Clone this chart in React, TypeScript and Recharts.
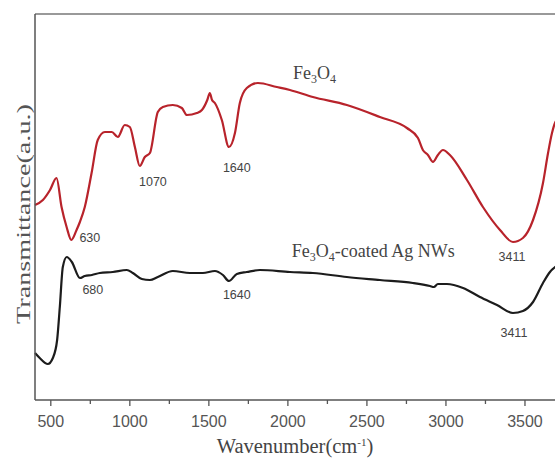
import { LineChart, Line, XAxis, YAxis, ReferenceDot } from 'recharts'

// wavenumber (cm-1) for each sampled point of the Fe3O4 spectrum
const fe3o4Wavenumbers = [
  400, 450, 495, 536, 568, 600, 630, 663, 684, 715, 758, 797, 842, 886, 924, 968,
  1000, 1032, 1063, 1095, 1127, 1177, 1209, 1272, 1329, 1361, 1424, 1456, 1490,
  1506, 1520, 1538, 1582, 1627, 1665, 1696, 1740, 1810, 1930, 2013, 2158, 2373,
  2582, 2753, 2823, 2854, 2886, 2918, 2949, 2981, 3025, 3133, 3234, 3342, 3424,
  3487, 3551, 3614, 3646, 3671, 3690, 3700,
]
// transmittance, arbitrary units
const fe3o4Values = [
  195, 200, 210, 222, 193, 173, 160, 170, 178, 193, 227, 260, 268, 268, 263, 275,
  273, 253, 234, 243, 247, 288, 293, 295, 292, 285, 287, 290, 300, 307, 300, 297,
  280, 253, 267, 297, 312, 317, 313, 310, 303, 295, 283, 272, 262, 250, 245, 238,
  245, 250, 245, 220, 193, 170, 158, 162, 180, 217, 247, 267, 277, 280,
]

const agWavenumbers = [
  400, 430, 481, 513, 540, 557, 576, 601, 633, 684, 715, 760, 810, 892, 981, 1019,
  1076, 1127, 1177, 1272, 1380, 1462, 1538, 1589, 1627, 1677, 1740, 1823, 2013,
  2158, 2373, 2582, 2791, 2899, 2924, 2949, 3006, 3108, 3215, 3323, 3424, 3487,
  3551, 3614, 3658, 3700,
]
const agValues = [
  47, 42, 36, 42, 60, 93, 133, 143, 138, 122, 124, 125, 127, 128, 130, 127, 121,
  120, 123, 129, 127, 127, 129, 125, 119, 126, 128, 130, 128, 127, 123, 120, 117,
  114, 113, 116, 116, 112, 103, 95, 87, 89, 98, 117, 128, 134,
]

const xTicks = [500, 750, 1000, 1250, 1500, 1750, 2000, 2250, 2500, 2750, 3000, 3250, 3500, 3750]

// peak labels: text, wavenumber and height of the text centre
const peakLabels = [
  { text: '630', x: 747, y: 162 },
  { text: '1070', x: 1146, y: 218 },
  { text: '1640', x: 1677, y: 232 },
  { text: '3411', x: 3418, y: 143 },
  { text: '680', x: 766, y: 110 },
  { text: '1640', x: 1677, y: 105 },
  { text: '3411', x: 3430, y: 67 },
]

const seriesLabels = [
  { suffix: '', x: 2032, y: 321 },
  { suffix: '-coated Ag NWs', x: 2025, y: 143 },
]

const fe3o4Data = fe3o4Wavenumbers.map((w, i) => ({ w, v: fe3o4Values[i] }))
const agData = agWavenumbers.map((w, i) => ({ w, v: agValues[i] }))

const serif = '"Liberation Serif", "Times New Roman", serif'
const sans = '"Liberation Sans", Arial, sans-serif'

const AxisTick = ({ x, y, payload }: any) => {
  const major = payload.value % 500 === 0
  return (
    <g>
      <line x1={x} x2={x} y1={y} y2={y + (major ? 6 : 4)} stroke="#555" strokeWidth={1.3} />
      {major && (
        <text x={x} y={y + 27} textAnchor="middle" fontFamily={sans} fontSize={16} fill="#555">
          {payload.value}
        </text>
      )}
    </g>
  )
}

export default function App() {
  return (
    <div
      style={{
        position: 'absolute',
        left: 0,
        top: 0,
        width: 555,
        height: 458,
        overflow: 'hidden',
        background: '#fff',
      }}
    >
      <LineChart width={620} height={458} margin={{ top: 13, right: 16, bottom: 0, left: 34 }}>
        <XAxis
          dataKey="w"
          type="number"
          domain={[400, 4000]}
          ticks={xTicks}
          interval={0}
          allowDuplicatedCategory={false}
          tick={<AxisTick />}
          tickLine={false}
          tickSize={0}
          tickMargin={0}
          height={58}
          axisLine={{ stroke: '#555', strokeWidth: 1.5 }}
          label={(props: any) => {
            const vb = props.viewBox
            return (
              <text x={295} y={vb.y + 53} textAnchor="middle" fontFamily={serif} fontSize={20.5} fill="#444">
                Wavenumber(cm
                <tspan dy={-7} fontSize={11}>-1</tspan>
                <tspan dy={7}>)</tspan>
              </text>
            )
          }}
        />
        <XAxis
          xAxisId="top"
          orientation="top"
          dataKey="w"
          type="number"
          domain={[400, 4000]}
          tick={false}
          tickLine={false}
          height={1}
          axisLine={{ stroke: '#777', strokeWidth: 1.5 }}
        />
        <YAxis
          type="number"
          domain={[0, 386]}
          tick={false}
          tickLine={false}
          width={1}
          axisLine={{ stroke: '#555', strokeWidth: 1.5 }}
          label={(props: any) => {
            const vb = props.viewBox
            const cx = vb.x - 11
            const cy = vb.y + vb.height / 2 + 7
            return (
              <text
                x={cx}
                y={cy}
                transform={`rotate(-90 ${cx} ${cy})`}
                textAnchor="middle"
                dominantBaseline="central"
                fontFamily={serif}
                fontSize={19}
                fill="#555"
                textLength={220}
                lengthAdjust="spacingAndGlyphs"
              >
                Transmittance(a.u.)
              </text>
            )
          }}
        />
        <Line
          data={fe3o4Data}
          dataKey="v"
          type="monotone"
          stroke="#b8232b"
          strokeWidth={2.2}
          dot={false}
          isAnimationActive={false}
        />
        <Line
          data={agData}
          dataKey="v"
          type="monotone"
          stroke="#1c1c1c"
          strokeWidth={2.2}
          dot={false}
          isAnimationActive={false}
        />
        {peakLabels.map((p, i) => (
          <ReferenceDot
            key={'p' + i}
            x={p.x}
            y={p.y}
            r={0}
            fill="none"
            stroke="none"
            label={(props: any) => (
              <text
                x={props.viewBox.x}
                y={props.viewBox.y}
                textAnchor="middle"
                dominantBaseline="central"
                fontFamily={sans}
                fontSize={12.5}
                fill="#444"
              >
                {p.text}
              </text>
            )}
          />
        ))}
        {seriesLabels.map((s, i) => (
          <ReferenceDot
            key={'s' + i}
            x={s.x}
            y={s.y}
            r={0}
            fill="none"
            stroke="none"
            label={(props: any) => (
              <text x={props.viewBox.x} y={props.viewBox.y} fontFamily={serif} fontSize={18} fill="#444">
                Fe
                <tspan dy={4} fontSize={12}>3</tspan>
                <tspan dy={-4}>O</tspan>
                <tspan dy={4} fontSize={12}>4</tspan>
                <tspan dy={-4}>{s.suffix}</tspan>
              </text>
            )}
          />
        ))}
      </LineChart>
    </div>
  )
}
